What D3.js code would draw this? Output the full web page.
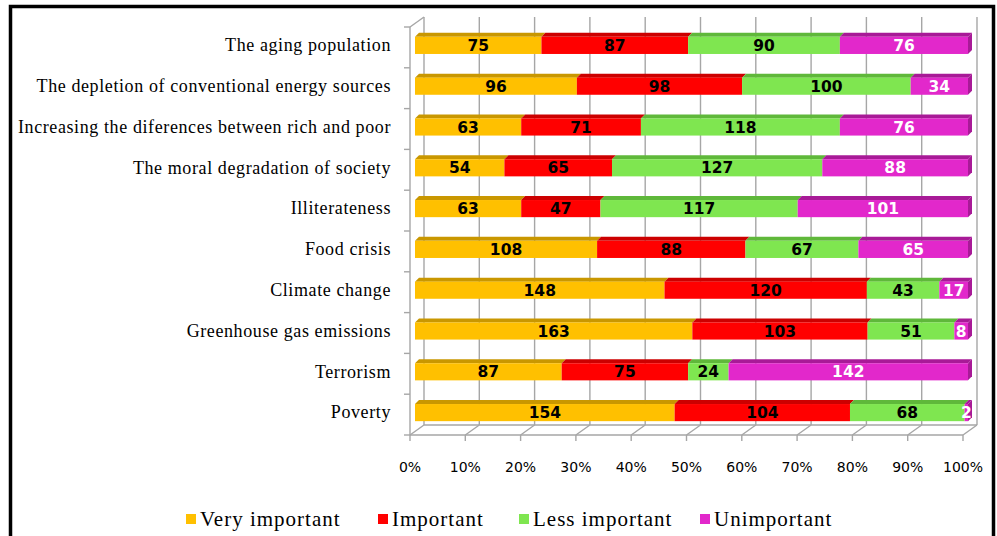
<!DOCTYPE html>
<html>
<head>
<meta charset="utf-8">
<script src="https://cdn.jsdelivr.net/npm/d3@7"></script>
<style>
  body { margin: 0; background: #fff; }
</style>
</head>
<body>
<div id="chart"></div>
<script>
// Chart data, rows from top to bottom
var categories = [
  'The aging population',
  'The depletion of conventional energy sources',
  'Increasing the diferences between rich and poor',
  'The moral degradation of society',
  'Illiterateness',
  'Food crisis',
  'Climate change',
  'Greenhouse gas emissions',
  'Terrorism',
  'Poverty'
]
var veryImportant = [75, 96, 63, 54, 63, 108, 148, 163, 87, 154]
var important = [87, 98, 71, 65, 47, 88, 120, 103, 75, 104]
var lessImportant = [90, 100, 118, 127, 117, 67, 43, 51, 24, 68]
var unimportant = [76, 34, 76, 88, 101, 65, 17, 8, 142, 2]
var seriesNames = ['Very important', 'Important', 'Less important', 'Unimportant']
var tickValues = [0, 0.1, 0.2, 0.3, 0.4, 0.5, 0.6, 0.7, 0.8, 0.9, 1]

const width = 997
const height = 536

// front / top face / label colours per series
var fronts = ['#FFC000', '#FF0000', '#7FE650', '#E228CB']
var tops = ['#C99700', '#CC0000', '#5FB83A', '#A81A97']
var labelColors = ['#000', '#000', '#000', '#fff']

// table for the stack
var rows = categories.map(function (c, i) {
  return {
    cat: c,
    'Very important': veryImportant[i],
    'Important': important[i],
    'Less important': lessImportant[i],
    'Unimportant': unimportant[i]
  }
})

var stack = d3.stack().keys(seriesNames).offset(d3.stackOffsetExpand)
var layers = stack(rows)

// front plane of the 3D box
var x = d3.scaleLinear().domain([0, 1]).range([410, 963])
var y = d3.scaleBand().domain(categories).range([27, 435]).paddingInner(0.58).paddingOuter(0.29)
var yb = d3.scaleBand().domain(categories).range([27, 435])
var depth = { dx: 14, dy: -10 }   // wall depth
var bar = { dx: 5, dy: -2 }       // bar position inside the box
var barTop = { dx: 4, dy: -4 }    // bar thickness

var svg = d3.select('#chart')
  .append('svg')
  .attr('width', width)
  .attr('height', height)
  .style('font-family', 'Liberation Serif, serif')

// Title, mostly cut off above the frame
svg.append('text')
  .attr('x', 500)
  .attr('y', -5)
  .attr('text-anchor', 'middle')
  .style('font-size', '19px')
  .style('font-weight', 'bold')
  .text('Figure 6. The importance of the main problems facing humanity today')

// Frame
svg.append('rect')
  .attr('x', 10.5)
  .attr('y', 6.5)
  .attr('width', 983)
  .attr('height', 620)
  .attr('fill', 'none')
  .attr('stroke', '#000')
  .attr('stroke-width', 3.5)

var grid = svg.append('g')
  .attr('stroke', '#A6A6A6')
  .attr('stroke-width', 1.4)
  .attr('fill', 'none')

var yTop = 27
var yFloor = 435

// back wall gridlines
grid.selectAll('.back')
  .data(tickValues)
  .enter().append('line')
  .attr('x1', d => x(d) + depth.dx)
  .attr('x2', d => x(d) + depth.dx)
  .attr('y1', yTop + depth.dy)
  .attr('y2', yFloor + depth.dy)

// floor diagonals + front ticks
grid.selectAll('.diag')
  .data(tickValues)
  .enter().append('line')
  .attr('x1', d => x(d))
  .attr('y1', yFloor)
  .attr('x2', d => x(d) + depth.dx)
  .attr('y2', yFloor + depth.dy)

grid.selectAll('.tick')
  .data(tickValues)
  .enter().append('line')
  .attr('x1', d => x(d))
  .attr('x2', d => x(d))
  .attr('y1', yFloor)
  .attr('y2', yFloor + 6)

// floor lines and left wall
grid.append('line').attr('x1', x(0)).attr('x2', x(1)).attr('y1', yFloor).attr('y2', yFloor)
grid.append('line')
  .attr('x1', x(0) + depth.dx).attr('x2', x(1) + depth.dx)
  .attr('y1', yFloor + depth.dy).attr('y2', yFloor + depth.dy)
grid.append('line').attr('x1', x(0)).attr('x2', x(0)).attr('y1', yTop).attr('y2', yFloor)
grid.append('line')
  .attr('x1', x(0)).attr('y1', yTop)
  .attr('x2', x(0) + depth.dx).attr('y2', yTop + depth.dy)

// category ticks on left wall
grid.selectAll('.ctick')
  .data(d3.range(categories.length + 1))
  .enter().append('line')
  .attr('x1', x(0) - 6)
  .attr('x2', x(0))
  .attr('y1', i => yTop + i * yb.step())
  .attr('y2', i => yTop + i * yb.step())

// Bars: top face, front face, right side face at the end
var bars = svg.append('g')

layers.forEach(function (layer, si) {
  var g = bars.append('g')
  g.selectAll('path.top')
    .data(layer)
    .enter().append('path')
    .attr('fill', tops[si])
    .attr('d', function (d) {
      var x0 = x(d[0]) + bar.dx
      var x1 = x(d[1]) + bar.dx
      var y0 = y(d.data.cat) + bar.dy
      return 'M' + x0 + ',' + y0 +
        'L' + (x0 + barTop.dx) + ',' + (y0 + barTop.dy) +
        'L' + (x1 + barTop.dx) + ',' + (y0 + barTop.dy) +
        'L' + x1 + ',' + y0 + 'Z'
    })
  g.selectAll('rect')
    .data(layer)
    .enter().append('rect')
    .attr('fill', fronts[si])
    .attr('x', d => x(d[0]) + bar.dx)
    .attr('width', d => x(d[1]) - x(d[0]))
    .attr('y', d => y(d.data.cat) + bar.dy)
    .attr('height', y.bandwidth())
})

// side faces at 100%
var last = layers[layers.length - 1]
bars.selectAll('path.side')
  .data(last)
  .enter().append('path')
  .attr('fill', tops[3])
  .attr('d', function (d) {
    var x1 = x(1) + bar.dx
    var y0 = y(d.data.cat) + bar.dy
    var y1 = y0 + y.bandwidth()
    return 'M' + x1 + ',' + y0 +
      'L' + (x1 + barTop.dx) + ',' + (y0 + barTop.dy) +
      'L' + (x1 + barTop.dx) + ',' + (y1 + barTop.dy) +
      'L' + x1 + ',' + y1 + 'Z'
  })

// value labels
layers.forEach(function (layer, si) {
  bars.append('g')
    .selectAll('text')
    .data(layer)
    .enter().append('text')
    .attr('x', d => (x(d[0]) + x(d[1])) / 2 + bar.dx)
    .attr('y', d => y(d.data.cat) + bar.dy + y.bandwidth() / 2)
    .attr('dy', '0.36em')
    .attr('text-anchor', 'middle')
    .attr('fill', labelColors[si])
    .style('font-family', 'DejaVu Sans, sans-serif')
    .style('font-weight', 'bold')
    .style('font-size', '15.5px')
    .text(d => d.data[seriesNames[si]])
})

// category labels
svg.append('g')
  .selectAll('text')
  .data(categories)
  .enter().append('text')
  .attr('x', 391)
  .attr('y', d => y(d) + bar.dy + y.bandwidth() / 2)
  .attr('dy', '0.32em')
  .attr('text-anchor', 'end')
  .style('font-size', '18px')
  .style('letter-spacing', '0.6px')
  .text(d => d)

// x axis labels
svg.append('g')
  .selectAll('text')
  .data(tickValues)
  .enter().append('text')
  .attr('x', d => x(d))
  .attr('y', 467)
  .attr('dy', '0.35em')
  .attr('text-anchor', 'middle')
  .style('font-family', 'DejaVu Sans, sans-serif')
  .style('font-size', '14px')
  .text(d3.format('.0%'))

// Legend
var legendX = [186, 378, 519, 700]
var legend = svg.append('g')
  .selectAll('g')
  .data(seriesNames)
  .enter().append('g')
  .attr('transform', (d, i) => 'translate(' + legendX[i] + ',519)')

legend.append('rect')
  .attr('x', 0)
  .attr('y', -5)
  .attr('width', 10)
  .attr('height', 10)
  .attr('fill', (d, i) => fronts[i])

legend.append('text')
  .attr('x', 14)
  .attr('dy', '0.33em')
  .style('font-size', '21px')
  .style('letter-spacing', '1px')
  .text(d => d)
</script>
</body>
</html>
